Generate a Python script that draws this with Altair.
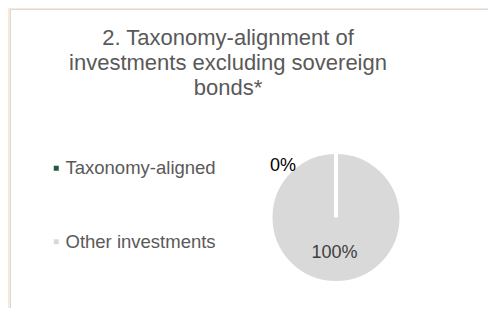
import altair as alt
import pandas as pd

categories = ["Taxonomy-aligned", "Other investments"]
values = [0, 100]
labels = ["0%", "100%"]
colors = ["#1E5C3E", "#D9D9D9"]
title_lines = ["2. Taxonomy-alignment of", "investments excluding sovereign", "bonds*"]

FONT = "Liberation Sans"
W, H = 478, 299
CX, CY = 326, 208.5

df = pd.DataFrame({"category": categories, "value": values, "label": labels})
one = pd.DataFrame({"k": [0]})

color = alt.Color(
    "category:N",
    scale=alt.Scale(domain=categories, range=colors),
    legend=alt.Legend(
        orient="none", legendX=37, legendY=150, title=None,
        direction="vertical", symbolType="square", symbolSize=25,
        symbolStrokeWidth=0, labelFont=FONT, labelFontSize=18.5,
        labelColor="#595959", rowPadding=54.5, labelOffset=0, labelLimit=300,
    ),
)

base = alt.Chart(df).encode(
    theta=alt.Theta("value:Q", stack=True),
    x=alt.value(CX), y=alt.value(CY),
)

arc = base.mark_arc(outerRadius=65.5, stroke="white", strokeWidth=4).encode(color=color)
arc_line = base.transform_filter(alt.datum.category == categories[0]).mark_arc(
    outerRadius=65.5, stroke="white", strokeWidth=4
).encode(color=color)

lbl_small = base.transform_filter(alt.datum.category == categories[0]).mark_text(
    radius=52, dx=-53, font=FONT, fontSize=18, color="#000000",
    align="center", baseline="middle",
).encode(text="label:N")
lbl_big = base.transform_filter(alt.datum.category == categories[1]).mark_text(
    radius=35.5, dx=-1.5, font=FONT, fontSize=18, color="#404040",
    align="center", baseline="middle",
).encode(text="label:N")

title = alt.Chart(one).mark_text(
    text=title_lines, font=FONT, fontSize=22, color="#595959",
    align="center", baseline="alphabetic", lineHeight=25,
).encode(x=alt.value(218), y=alt.value(36))

border_left = alt.Chart(one).mark_rule(color="#D9D9D9", strokeWidth=1).encode(
    x=alt.value(0.5), y=alt.value(0), y2=alt.value(H)
)
border_top = alt.Chart(one).mark_rule(color="#D9D9D9", strokeWidth=1).encode(
    x=alt.value(0), x2=alt.value(W), y=alt.value(0.5)
)

chart = alt.layer(
    border_left, border_top, arc, arc_line, lbl_small, lbl_big, title
).properties(
    width=W, height=H,
    autosize=alt.AutoSizeParams(type="none"),
    padding={"left": 2, "top": 1, "right": 0, "bottom": 0},
    background="#FBE8D6",
).configure_view(fill="white", stroke="transparent")

chart.save("out.html", embed_options={"renderer": "svg", "actions": False})
